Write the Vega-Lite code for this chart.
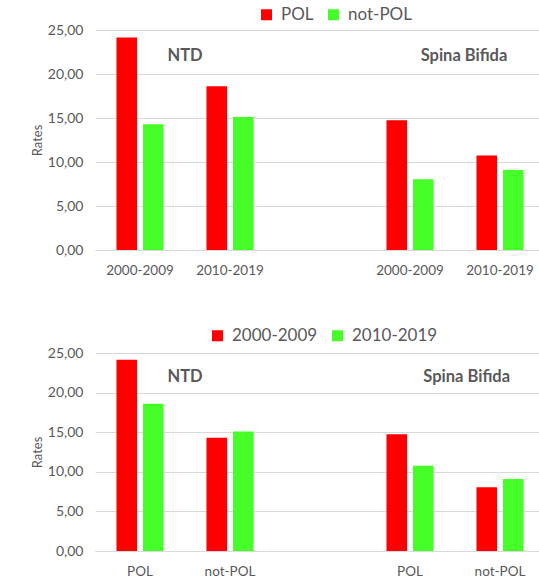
{
  "$schema": "https://vega.github.io/schema/vega-lite/v6.json",
  "padding": {"left": 31, "top": 6, "right": 0, "bottom": 0},
  "background": "white",
  "spacing": 50,
  "config": {
    "font": "Lato",
    "view": {"stroke": null},
    "axis": {"labelFont": "Lato", "titleFont": "Lato", "labelColor": "#595959", "titleColor": "#595959", "domainColor": "#D9D9D9", "gridColor": "#D9D9D9", "ticks": false, "labelOverlap": false},
    "legend": {"labelFont": "Lato", "labelColor": "#595959", "padding": 0}
  },
  "datasets": {
    "rates": [
      {"disease": "NTD", "period": "2000-2009", "pop": "POL", "top": "NTD|2000-2009", "bottom": "NTD|POL", "rate": 24.15},
      {"disease": "NTD", "period": "2000-2009", "pop": "not-POL", "top": "NTD|2000-2009", "bottom": "NTD|not-POL", "rate": 14.3},
      {"disease": "NTD", "period": "2010-2019", "pop": "POL", "top": "NTD|2010-2019", "bottom": "NTD|POL", "rate": 18.6},
      {"disease": "NTD", "period": "2010-2019", "pop": "not-POL", "top": "NTD|2010-2019", "bottom": "NTD|not-POL", "rate": 15.1},
      {"disease": "Spina Bifida", "period": "2000-2009", "pop": "POL", "top": "SB|2000-2009", "bottom": "SB|POL", "rate": 14.75},
      {"disease": "Spina Bifida", "period": "2000-2009", "pop": "not-POL", "top": "SB|2000-2009", "bottom": "SB|not-POL", "rate": 8.05},
      {"disease": "Spina Bifida", "period": "2010-2019", "pop": "POL", "top": "SB|2010-2019", "bottom": "SB|POL", "rate": 10.75},
      {"disease": "Spina Bifida", "period": "2010-2019", "pop": "not-POL", "top": "SB|2010-2019", "bottom": "SB|not-POL", "rate": 9.1}
    ]
  },
  "resolve": {"scale": {"color": "independent", "x": "independent", "xOffset": "independent"}, "legend": {"color": "independent"}},
  "vconcat": [
    {
      "width": 450,
      "height": 220,
      "layer": [
        {
          "data": {"name": "rates"},
          "mark": {"type": "bar"},
          "encoding": {
            "x": {"field": "top", "type": "nominal",
              "scale": {"domain": ["NTD|2000-2009", "NTD|2010-2019", "gap", "SB|2000-2009", "SB|2010-2019"], "paddingInner": 0, "paddingOuter": 0},
              "axis": {"title": null, "labelExpr": "indexof(datum.value,'|')>0 ? split(datum.value,'|')[1] : ''", "labelAngle": 0, "labelFontSize": 13.5, "labelPadding": 13, "grid": false, "domain": true}},
            "xOffset": {"field": "pop", "type": "nominal", "scale": {"domain": ["POL", "not-POL"], "paddingInner": 0.226, "paddingOuter": 0.81}},
            "y": {"field": "rate", "type": "quantitative", "scale": {"domain": [0, 25], "nice": false},
              "axis": {"title": "Rates", "values": [0, 5, 10, 15, 20, 25], "labelExpr": "replace(format(datum.value,'.2f'),'.',',')", "domain": false, "labelFontSize": 14, "labelPadding": 12, "titleFontSize": 13, "titleFontWeight": "normal", "titlePadding": 3}},
            "color": {"field": "pop", "type": "nominal", "scale": {"domain": ["POL", "not-POL"], "range": ["#FF0000", "#46FF28"]},
              "legend": {"title": null, "orient": "none", "legendX": 163, "legendY": -24, "direction": "horizontal", "symbolType": "square", "symbolSize": 121, "symbolStrokeWidth": 0, "labelFontSize": 17, "columnPadding": 11, "labelOffset": 6}}
          }
        },
        {
          "data": {"values": [{"label": "NTD"}]},
          "mark": {"type": "text", "fontWeight": "bold", "fontSize": 16.5, "color": "#595959", "baseline": "middle"},
          "encoding": {
            "text": {"field": "label"},
            "x": {"datum": "NTD|2010-2019", "type": "nominal", "bandPosition": 0},
            "y": {"datum": 22, "type": "quantitative", "title": "Rates",
              "axis": {"title": "Rates", "values": [0, 5, 10, 15, 20, 25], "labelExpr": "replace(format(datum.value,'.2f'),'.',',')", "domain": false, "labelFontSize": 14, "labelPadding": 12, "titleFontSize": 13, "titleFontWeight": "normal", "titlePadding": 3}}
          }
        },
        {
          "data": {"values": [{"label": "Spina Bifida"}]},
          "mark": {"type": "text", "fontWeight": "bold", "fontSize": 16.5, "color": "#595959", "baseline": "middle"},
          "encoding": {
            "text": {"field": "label"},
            "x": {"datum": "SB|2010-2019", "type": "nominal", "bandPosition": 0.1},
            "y": {"datum": 22, "type": "quantitative", "title": "Rates",
              "axis": {"title": "Rates", "values": [0, 5, 10, 15, 20, 25], "labelExpr": "replace(format(datum.value,'.2f'),'.',',')", "domain": false, "labelFontSize": 14, "labelPadding": 12, "titleFontSize": 13, "titleFontWeight": "normal", "titlePadding": 3}}
          }
        }
      ]
    },
    {
      "width": 450,
      "height": 198,
      "layer": [
        {
          "data": {"name": "rates"},
          "mark": {"type": "bar"},
          "encoding": {
            "x": {"field": "bottom", "type": "nominal",
              "scale": {"domain": ["NTD|POL", "NTD|not-POL", "gap", "SB|POL", "SB|not-POL"], "paddingInner": 0, "paddingOuter": 0},
              "axis": {"title": null, "labelExpr": "indexof(datum.value,'|')>0 ? split(datum.value,'|')[1] : ''", "labelAngle": 0, "labelFontSize": 13.5, "labelPadding": 13, "grid": false, "domain": true}},
            "xOffset": {"field": "period", "type": "nominal", "scale": {"domain": ["2000-2009", "2010-2019"], "paddingInner": 0.226, "paddingOuter": 0.81}},
            "y": {"field": "rate", "type": "quantitative", "scale": {"domain": [0, 25], "nice": false},
              "axis": {"title": "Rates", "values": [0, 5, 10, 15, 20, 25], "labelExpr": "replace(format(datum.value,'.2f'),'.',',')", "domain": false, "labelFontSize": 14, "labelPadding": 12, "titleFontSize": 13, "titleFontWeight": "normal", "titlePadding": 3}},
            "color": {"field": "period", "type": "nominal", "scale": {"domain": ["2000-2009", "2010-2019"], "range": ["#FF0000", "#46FF28"]},
              "legend": {"title": null, "orient": "none", "legendX": 114, "legendY": -26, "direction": "horizontal", "symbolType": "square", "symbolSize": 121, "symbolStrokeWidth": 0, "labelFontSize": 17, "columnPadding": 11, "labelOffset": 6}}
          }
        },
        {
          "data": {"values": [{"label": "NTD"}]},
          "mark": {"type": "text", "fontWeight": "bold", "fontSize": 16.5, "color": "#595959", "baseline": "middle"},
          "encoding": {
            "text": {"field": "label"},
            "x": {"datum": "NTD|not-POL", "type": "nominal", "bandPosition": 0},
            "y": {"datum": 22, "type": "quantitative", "title": "Rates",
              "axis": {"title": "Rates", "values": [0, 5, 10, 15, 20, 25], "labelExpr": "replace(format(datum.value,'.2f'),'.',',')", "domain": false, "labelFontSize": 14, "labelPadding": 12, "titleFontSize": 13, "titleFontWeight": "normal", "titlePadding": 3}}
          }
        },
        {
          "data": {"values": [{"label": "Spina Bifida"}]},
          "mark": {"type": "text", "fontWeight": "bold", "fontSize": 16.5, "color": "#595959", "baseline": "middle"},
          "encoding": {
            "text": {"field": "label"},
            "x": {"datum": "SB|not-POL", "type": "nominal", "bandPosition": 0.13},
            "y": {"datum": 22, "type": "quantitative", "title": "Rates",
              "axis": {"title": "Rates", "values": [0, 5, 10, 15, 20, 25], "labelExpr": "replace(format(datum.value,'.2f'),'.',',')", "domain": false, "labelFontSize": 14, "labelPadding": 12, "titleFontSize": 13, "titleFontWeight": "normal", "titlePadding": 3}}
          }
        }
      ]
    }
  ]
}
